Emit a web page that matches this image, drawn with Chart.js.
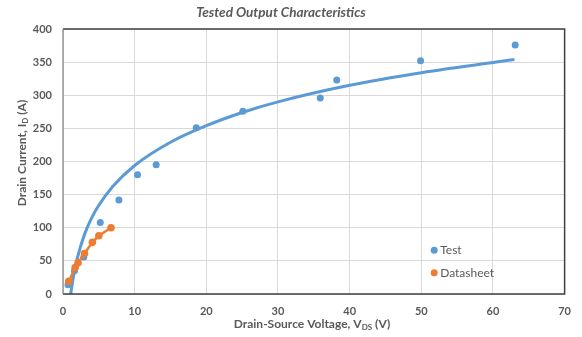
<!DOCTYPE html>
<html><head><meta charset="utf-8">
<script src="https://cdn.jsdelivr.net/npm/chart.js@4.4.1/dist/chart.umd.min.js"></script>
<style>html,body{margin:0;padding:0;background:#fff}#wrap{width:582px;height:337px;position:relative}</style>
</head><body><div id="wrap"><canvas id="c" width="582" height="337"></canvas></div>
<script>
const chartTitle = "Tested Output Characteristics";
const testX = [0.7, 1.6, 2.9, 5.2, 7.8, 10.4, 13.0, 18.6, 25.1, 35.9, 38.2, 49.9, 63.1];
const testY = [14, 35, 56, 108, 142, 180, 195, 251, 276, 296, 323, 352, 376];
const dsX = [0.8, 1.7, 2.1, 3.0, 4.1, 5.0, 6.7];
const dsY = [19, 40, 47, 61, 78, 88, 100];
const trendX = [1.07, 1.5, 2, 3, 4, 5, 7, 10, 15, 20, 25, 30, 40, 50, 63];
const trendY = [0, 29, 54, 90, 115, 134, 163, 194, 229, 254, 274, 290, 315, 334, 354];
const xTicks = [0, 10, 20, 30, 40, 50, 60, 70];
const yTicks = [0, 50, 100, 150, 200, 250, 300, 350, 400];
const seriesNames = ["Test", "Datasheet"];
const BLUE = "#5B9BD5", ORANGE = "#ED7D31", TXT = "#595959";
const FONT = "Lato, 'Open Sans', sans-serif";

const pts = (xs, ys) => xs.map((x, i) => ({x: x, y: ys[i]}));

const decor = {
  id: 'decor',
  afterDraw(chart) {
    const ctx = chart.ctx, a = chart.chartArea;
    const xs = chart.scales.x, ys = chart.scales.y;
    ctx.save();
    ctx.strokeStyle = "#404040"; ctx.lineWidth = 1.5;
    ctx.beginPath();
    ctx.moveTo(a.left, a.top); ctx.lineTo(a.right, a.top); ctx.lineTo(a.right, a.bottom); ctx.lineTo(a.left, a.bottom);
    ctx.stroke();
    ctx.strokeStyle = "#808080"; ctx.lineWidth = 1.2;
    ctx.beginPath(); ctx.moveTo(a.left, a.top); ctx.lineTo(a.left, a.bottom); ctx.stroke();
    ctx.fillStyle = TXT; ctx.textBaseline = "middle"; ctx.textAlign = "center";
    ctx.font = "italic bold 13.5px " + FONT;
    ctx.fillText(chartTitle, 281, 13);
    function drawSub(parts, cx, cy) {
      ctx.textAlign = "left";
      let w = 0;
      parts.forEach(p => { ctx.font = "bold " + p[1] + "px " + FONT; w += ctx.measureText(p[0]).width; });
      let x = cx - w / 2;
      parts.forEach(p => {
        ctx.font = "bold " + p[1] + "px " + FONT;
        ctx.fillText(p[0], x, cy + p[2]);
        x += ctx.measureText(p[0]).width;
      });
    }
    drawSub([["Drain-Source Voltage, V", 12, 0], ["DS", 8, 3], [" (V)", 12, 0]], 312, 324);
    ctx.save();
    ctx.translate(22, 153); ctx.rotate(-Math.PI / 2);
    drawSub([["Drain Current, I", 12, 0], ["D", 8, 3], [" (A)", 12, 0]], 0, 0);
    ctx.restore();
    const lg = [[seriesNames[0], BLUE, 66], [seriesNames[1], ORANGE, 32]];
    ctx.font = "12px " + FONT; ctx.textAlign = "left";
    lg.forEach(l => {
      const px = xs.getPixelForValue(51.8), py = ys.getPixelForValue(l[2]);
      ctx.fillStyle = l[1]; ctx.beginPath(); ctx.arc(px, py, 3.5, 0, Math.PI * 2); ctx.fill();
      ctx.fillStyle = TXT; ctx.fillText(l[0], px + 6, py);
    });
    ctx.restore();
  }
};

new Chart(document.getElementById('c'), {
  type: 'scatter',
  data: {
    datasets: [
      {label: seriesNames[0], data: pts(testX, testY), backgroundColor: BLUE, borderColor: BLUE, pointRadius: 3.5, pointBorderWidth: 0, pointHoverRadius: 3.5, order: 2},
      {label: "trend", type: 'line', data: pts(trendX, trendY), borderColor: BLUE, borderWidth: 3, pointRadius: 0, fill: false, tension: 0.4, cubicInterpolationMode: 'monotone', order: 1},
      {label: seriesNames[1], type: 'line', data: pts(dsX, dsY), borderColor: ORANGE, backgroundColor: ORANGE, borderWidth: 2.5, pointRadius: 3.8, pointBorderWidth: 0, fill: false, tension: 0, order: 0}
    ]
  },
  options: {
    responsive: false, animation: false, devicePixelRatio: 1,
    layout: {padding: {top: 29, right: 13, left: 0, bottom: 0}},
    plugins: {legend: {display: false}, title: {display: false}, tooltip: {enabled: false}},
    scales: {
      x: {type: 'linear', min: 0, max: 70,
        afterBuildTicks: s => { s.ticks = xTicks.map(v => ({value: v})); },
        afterFit: s => { s.height = 43; },
        grid: {color: "#D9D9D9", drawTicks: false}, border: {display: false},
        ticks: {color: TXT, font: {family: FONT, size: 11, weight: 'bold'}, padding: 11}},
      y: {type: 'linear', min: 0, max: 400,
        afterBuildTicks: s => { s.ticks = yTicks.map(v => ({value: v})); },
        afterFit: s => { s.width = 63; },
        grid: {color: "#D9D9D9", drawTicks: false}, border: {display: false},
        ticks: {color: TXT, font: {family: FONT, size: 11, weight: 'bold'}, padding: 11}}
    }
  },
  plugins: [decor]
});
</script></body></html>
